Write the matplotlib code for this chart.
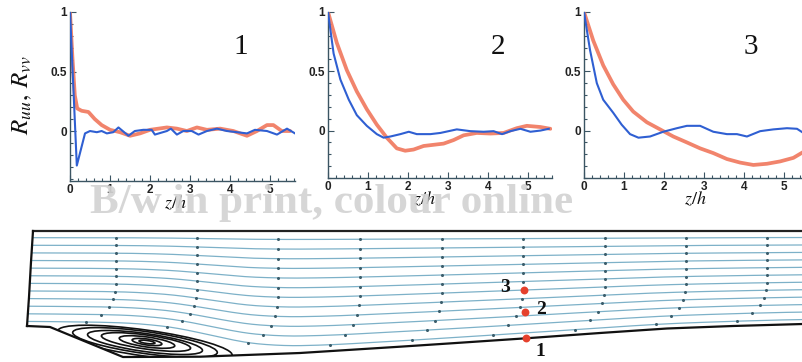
import numpy as np
import matplotlib
matplotlib.use("Agg")
import matplotlib.pyplot as plt
from matplotlib.patches import Ellipse, Polygon
from matplotlib.ticker import AutoMinorLocator

plt.rcParams['mathtext.fontset'] = 'stix'

# ---- two-point correlations at the three probe locations ----
p1_blue_z = [0, 0.17, 0.375, 0.5, 0.67, 0.79, 0.92, 1.08, 1.21, 1.46, 1.62, 1.83, 2.04, 2.12,
             2.42, 2.52, 2.67, 2.83, 3.04, 3.21, 3.42, 3.67, 3.92, 4.17, 4.42, 4.62, 4.92,
             5.17, 5.42, 5.62]
p1_blue_r = [1.0, -0.29, -0.02, 0.0, -0.01, 0.0, -0.02, -0.01, 0.03, -0.04, 0.0, 0.01, 0.01,
             -0.03, 0.0, 0.02, -0.03, 0.0, 0.0, -0.03, 0.0, 0.02, 0.0, -0.01, -0.02, 0.01,
             0.0, -0.03, 0.02, -0.02]
p1_red_z = [0, 0.06, 0.12, 0.18, 0.29, 0.46, 0.62, 0.79, 1.0, 1.25, 1.5, 1.75, 2.0, 2.42,
            2.67, 2.92, 3.17, 3.42, 3.75, 4.08, 4.42, 4.67, 4.92, 5.08, 5.29, 5.5]
p1_red_r = [1.0, 0.62, 0.3, 0.19, 0.17, 0.16, 0.1, 0.05, 0.01, -0.01, -0.04, -0.02, 0.01,
            0.03, 0.02, 0.0, 0.03, 0.01, 0.02, 0.0, -0.04, 0.0, 0.05, 0.05, 0.0, 0.0]

p2_blue_z = [0, 0.14, 0.31, 0.52, 0.72, 0.97, 1.22, 1.39, 1.56, 1.81, 2.02, 2.22, 2.56, 2.81,
             3.22, 3.56, 3.89, 4.14, 4.35, 4.56, 4.81, 5.06, 5.31, 5.52]
p2_blue_r = [1.0, 0.65, 0.43, 0.26, 0.13, 0.04, -0.03, -0.06, -0.05, -0.03, -0.01, -0.03,
             -0.03, -0.02, 0.01, -0.005, -0.01, -0.005, -0.03, -0.005, 0.015, -0.01, 0.0, 0.015]
p2_red_z = [0, 0.22, 0.47, 0.72, 0.97, 1.22, 1.47, 1.72, 1.93, 2.14, 2.39, 2.64, 2.89, 3.14,
            3.39, 3.72, 4.06, 4.39, 4.72, 4.97, 5.31, 5.56]
p2_red_r = [1.0, 0.74, 0.51, 0.33, 0.18, 0.05, -0.06, -0.15, -0.17, -0.16, -0.13, -0.12,
            -0.11, -0.08, -0.04, -0.02, -0.025, -0.02, 0.02, 0.04, 0.03, 0.015]

p3_blue_z = [0, 0.15, 0.32, 0.48, 0.73, 0.94, 1.15, 1.36, 1.65, 1.98, 2.32, 2.57, 2.9, 3.23,
             3.57, 3.82, 4.07, 4.4, 4.73, 5.07, 5.32, 5.48]
p3_blue_r = [1.0, 0.68, 0.40, 0.26, 0.15, 0.05, -0.03, -0.06, -0.05, -0.01, 0.02, 0.04, 0.04,
             -0.01, -0.03, -0.03, -0.05, -0.005, 0.01, 0.02, 0.015, -0.02]
p3_red_z = [0, 0.23, 0.48, 0.73, 0.98, 1.23, 1.57, 1.9, 2.23, 2.57, 2.9, 3.23, 3.57, 3.9,
            4.23, 4.57, 4.9, 5.23, 5.48]
p3_red_r = [1.0, 0.76, 0.55, 0.39, 0.26, 0.16, 0.07, 0.01, -0.05, -0.10, -0.15, -0.19, -0.24,
            -0.27, -0.29, -0.28, -0.26, -0.23, -0.18]

panel_labels = ["1", "2", "3"]
x_ticks = [0, 1, 2, 3, 4, 5]
y_ticks = [0, 0.5, 1]
y_ticklabels = ["0", "0.5", "1"]

# ---- channel geometry (streamline view) ----
top_wall_y = 131
inlet_x = [33, 31, 29, 27]
inlet_y = [131, 100, 65, 36]
floor_x = [27, 50, 123, 200, 300, 400, 450, 526, 600, 667, 733, 803]
floor_y = [36, 35, 5, 5.3, 9, 15.3, 18.6, 23.7, 29, 33.5, 36, 38]
# dividing streamline over the separation bubble
divide_x = [15, 60, 110, 150, 190, 230, 270, 320, 400, 450, 526, 600, 667, 733, 803]
divide_y = [36, 35.5, 35, 33, 27, 16, 10, 10.5, 15.3, 18.6, 23.7, 29, 33.5, 36, 38]
stream_levels = [0.05, 0.13, 0.21, 0.29, 0.37, 0.45, 0.53, 0.61, 0.69, 0.77, 0.85, 0.93]
marker_cols = [116, 197, 278, 360, 442, 523, 605, 686, 767]

# recirculation bubble rings
ring_cx = [147, 147, 147, 146, 145, 145, 145]
ring_cy = [20, 20, 20, 20, 19.5, 19.5, 19]
ring_half_w = [8, 15, 28, 45, 58, 73, 88]
ring_half_h = [1.5, 3.0, 5.0, 7.0, 9.0, 11.0, 13.0]

probe_x = [526, 525, 524]
probe_y = [24, 50, 72]
probe_names = ["1", "2", "3"]

W, H = 803, 362
fig = plt.figure(figsize=(W / 100, H / 100), dpi=100)


def box(l, t, r, b):
    return [l / W, 1 - b / H, (r - l) / W, (b - t) / H]


red = '#f07358'
blue = '#2f5fd2'
axis_col = '#3b5563'

panels = [
    (box(70, 12, 295, 181), 5.62, -0.42, p1_blue_z, p1_blue_r, p1_red_z, p1_red_r, 0.47),
    (box(328, 12, 552, 178), 5.60, -0.40, p2_blue_z, p2_blue_r, p2_red_z, p2_red_r, 0.43),
    (box(584, 12, 803, 178), 5.47, -0.40, p3_blue_z, p3_blue_r, p3_red_z, p3_red_r, 0.51),
]

for i, (rect, xmax, ymin, bz, br, rz, rr, lab_x) in enumerate(panels):
    ax = fig.add_axes(rect)
    ax.plot(rz, rr, color=red, lw=2.7, alpha=0.88, solid_capstyle='round', zorder=2)
    ax.plot(bz, br, color=blue, lw=1.5, zorder=3)
    ax.set_xlim(0, xmax)
    ax.set_ylim(ymin, 1.0)
    for s in ['top', 'right']:
        ax.spines[s].set_visible(False)
    for s in ['left', 'bottom']:
        ax.spines[s].set_color(axis_col)
        ax.spines[s].set_linewidth(1.0)
    ax.set_xticks(x_ticks)
    ax.set_yticks(y_ticks)
    ax.set_yticklabels(y_ticklabels)
    ax.xaxis.set_minor_locator(AutoMinorLocator(5))
    ax.yaxis.set_minor_locator(AutoMinorLocator(5))
    ax.tick_params(which='both', direction='in', color=axis_col, width=0.8)
    ax.tick_params(which='major', length=4, pad=2, labelsize=8.5)
    ax.tick_params(which='minor', length=2)
    for t in ax.get_xticklabels() + ax.get_yticklabels():
        t.set_fontfamily('Liberation Sans')
        t.set_fontweight('bold')
        t.set_color('#222222')
    ax.patch.set_alpha(0)
    ax.text(0.76, 0.79, panel_labels[i], transform=ax.transAxes, ha='center', va='center',
            fontsize=21, family='Liberation Serif', color='#111111')
    ax.text(lab_x, -0.13, r'$z/h$', transform=ax.transAxes, ha='center', va='center',
            fontsize=13, color='#111111')

fig.text(22 / W, 1 - 95 / H, r'$R_{uu},\,R_{vv}$', rotation=90, ha='center', va='center',
         fontsize=18, color='#111111')

# ---- streamline panel ----
axb = fig.add_axes(box(0, 220, 803, 362))
axb.set_xlim(0, 803)
axb.set_ylim(0, 142)
axb.axis('off')

domain = list(zip(inlet_x, inlet_y)) + list(zip(floor_x[1:], floor_y[1:])) + [(803, top_wall_y)]
clip = Polygon(domain, closed=True, facecolor='none', edgecolor='none')
axb.add_patch(clip)

xs = np.arange(15, 804, 1.0)
low = np.interp(xs, divide_x, divide_y)
k = 61
low = np.convolve(np.pad(low, k // 2, mode='edge'), np.ones(k) / k, mode='valid')

for f in stream_levels:
    ys = low + f * (top_wall_y - low)
    ln, = axb.plot(xs, ys, color='#7db1c8', lw=0.9, zorder=2)
    ln.set_clip_path(clip)
    shift = 45 * (1 - f) ** 8
    mx = np.array(marker_cols) - shift
    my = np.interp(mx, xs, ys)
    axb.plot(mx, my, ls='none', marker='o', ms=1.2, color='#3c5e6c', zorder=3)

for cx, cy, a, b in zip(ring_cx, ring_cy, ring_half_w, ring_half_h):
    e = Ellipse((cx, cy), 2 * a, 2 * b, angle=-8, facecolor='none', edgecolor='#111111',
                lw=1.2, zorder=4)
    axb.add_patch(e)
    e.set_clip_path(clip)

axb.plot([inlet_x[0], 803], [top_wall_y, top_wall_y], color='#222222', lw=1.6, zorder=5)
axb.plot(inlet_x, inlet_y, color='#111111', lw=1.6, zorder=5)
axb.plot(floor_x, floor_y, color='#111111', lw=1.6, zorder=5)

axb.scatter(probe_x, probe_y, s=32, color='#e5412d', zorder=6, linewidths=0)
label_dx = [14, 16, -19]
label_dy = [-14, 3, 2]
for px, py, name, dx, dy in zip(probe_x, probe_y, probe_names, label_dx, label_dy):
    axb.text(px + dx, py + dy, name, ha='center', va='center', fontsize=14,
             fontweight='bold', family='Liberation Serif', color='#111111', zorder=7)

fig.text(332 / W, 1 - 213 / H, 'B/w in print, colour online', ha='center', va='baseline',
         fontsize=31, fontweight='bold', family='Liberation Serif', color='#d3d3d3',
         alpha=0.93, zorder=10)

fig.savefig('out.png', dpi=100)
